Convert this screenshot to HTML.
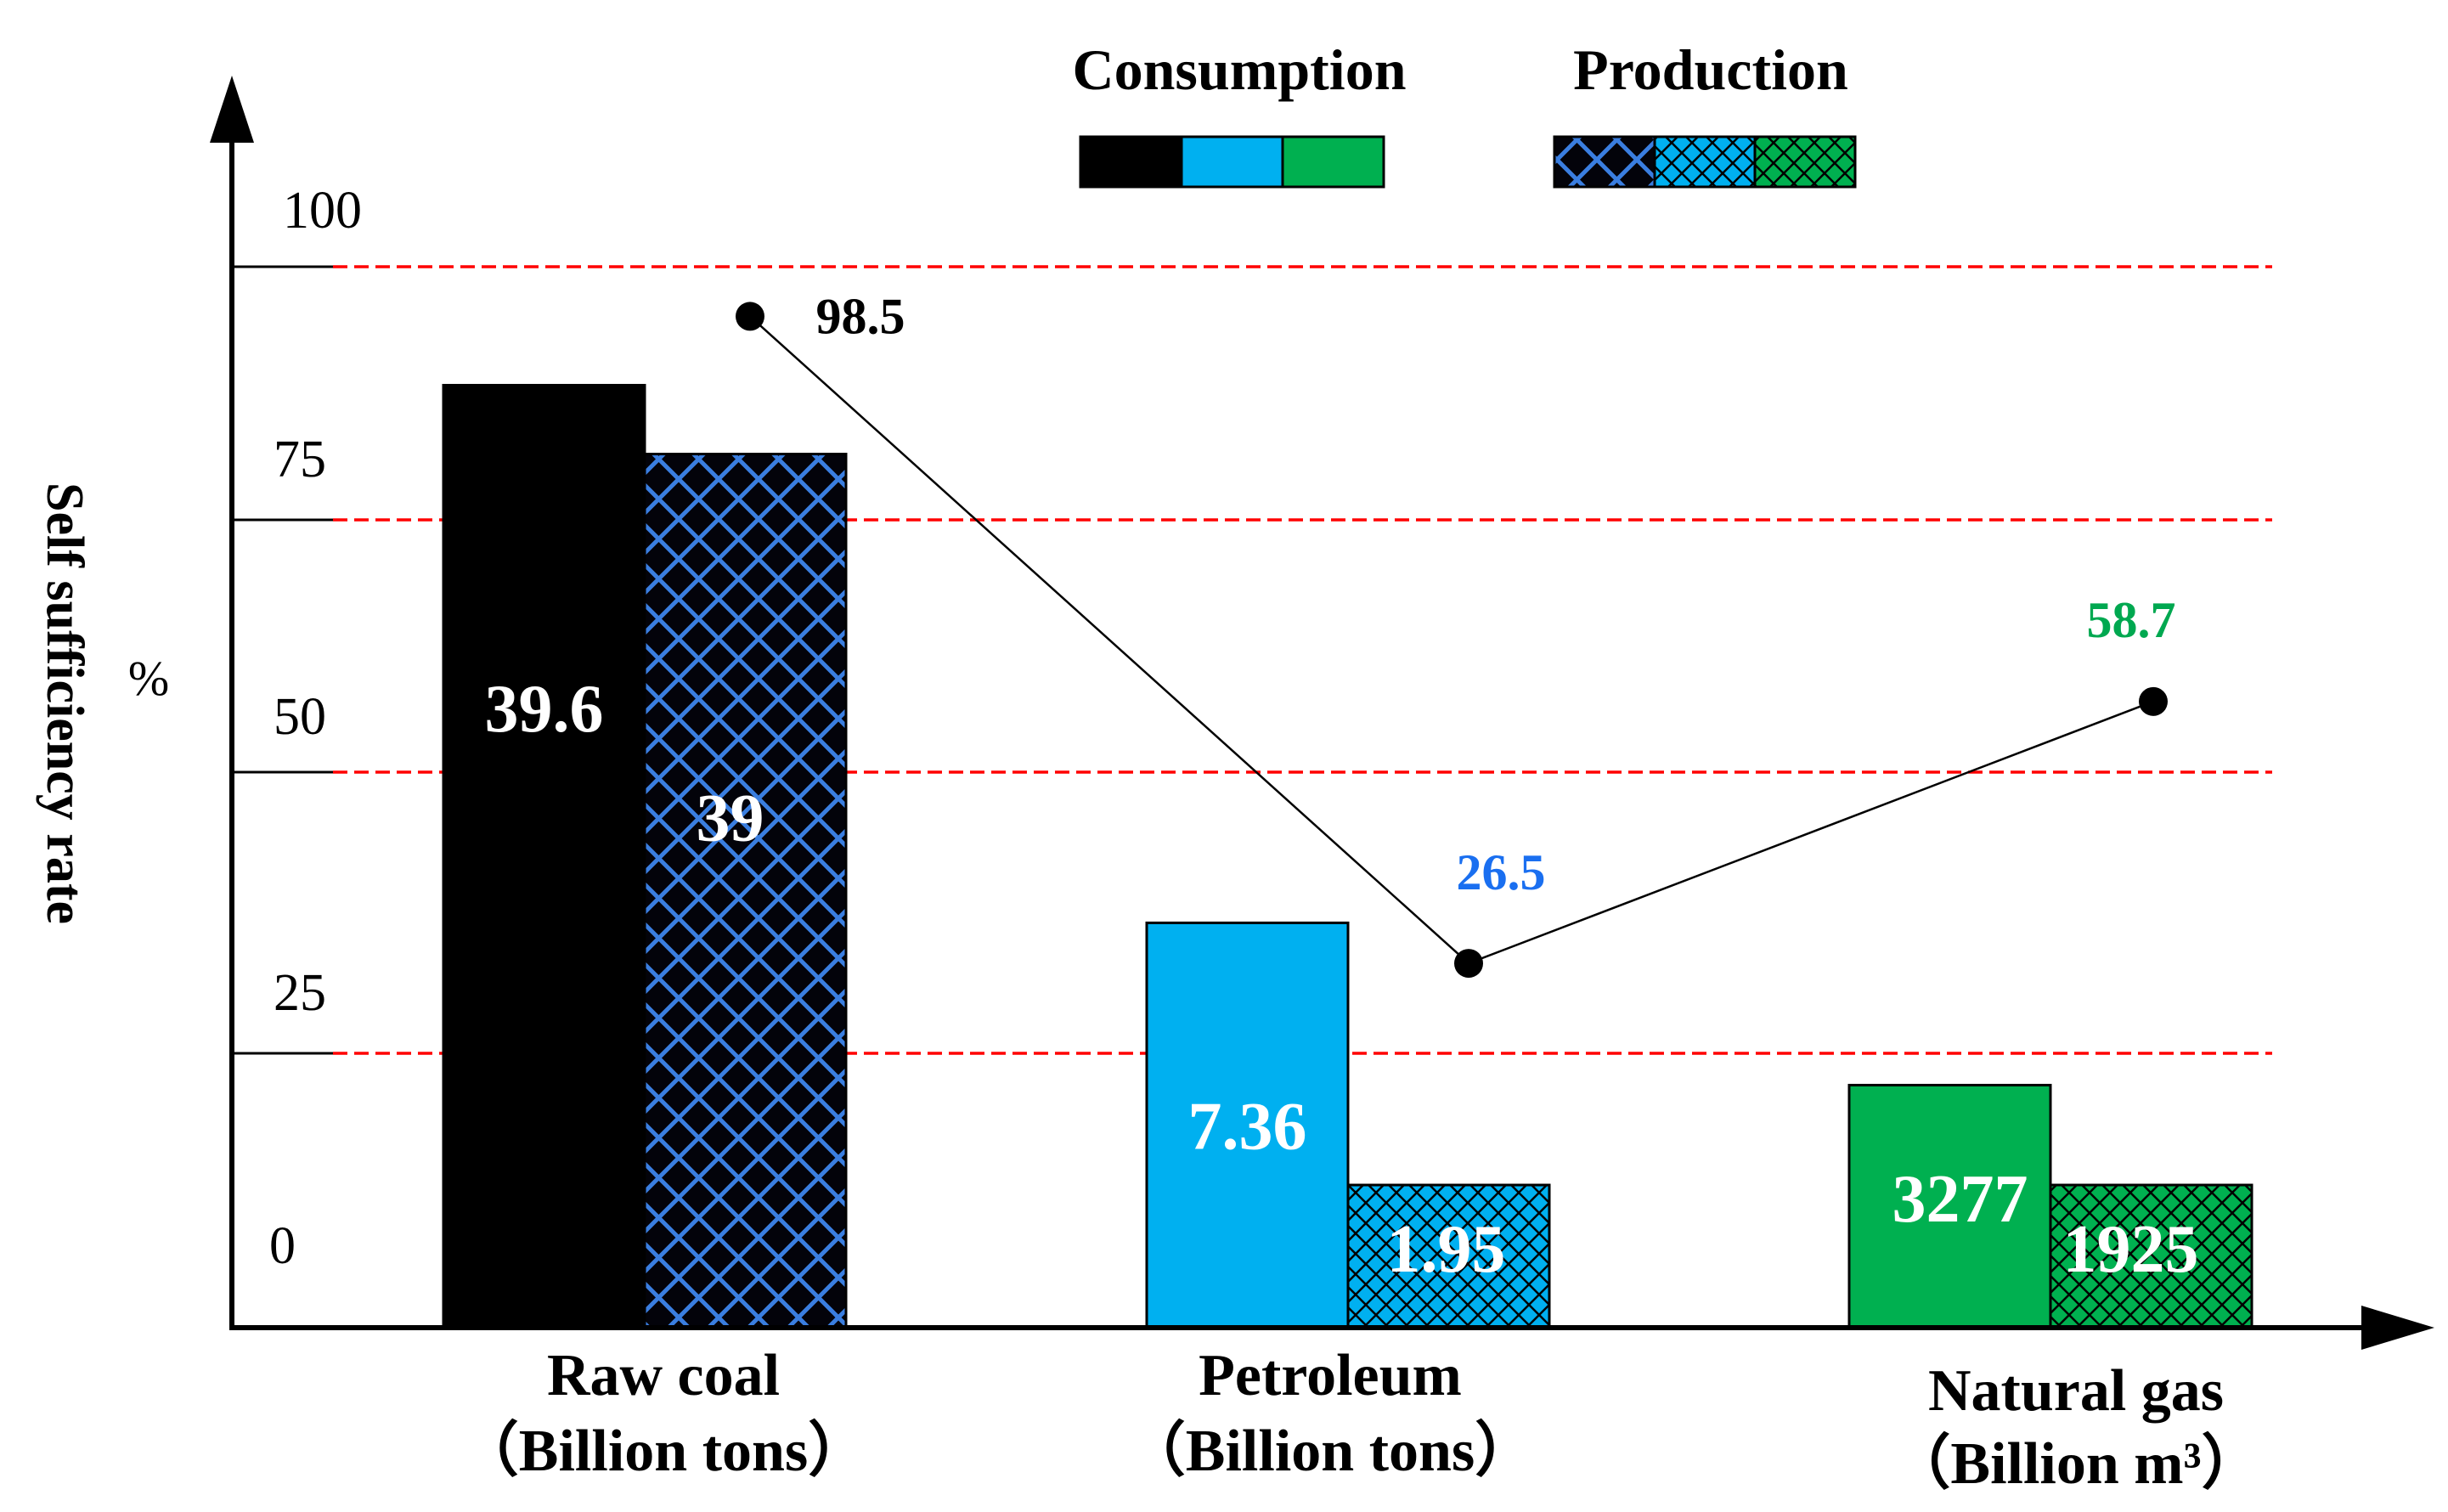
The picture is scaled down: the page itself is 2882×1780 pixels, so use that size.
<!DOCTYPE html>
<html><head><meta charset="utf-8"><style>
html,body{margin:0;padding:0;background:#fff}
svg{display:block}
text{font-family:"Liberation Serif",serif}
.b{font-weight:bold}
.n{font-weight:normal}
</style></head><body>
<svg id="chart" width="2882" height="1780" viewBox="0 0 2882 1780" xmlns="http://www.w3.org/2000/svg">
<defs>
<pattern id="hatchBlack" patternUnits="userSpaceOnUse" width="47" height="47">
<rect width="47" height="47" fill="#03030a"/>
<path d="M0,0L47,47M47,0L0,47" stroke="#3a7ee0" stroke-width="5"/>
</pattern>
<pattern id="hatchBlue" patternUnits="userSpaceOnUse" width="24" height="24">
<rect width="24" height="24" fill="#00b0f0"/>
<path d="M0,0L24,24M24,0L0,24" stroke="#000" stroke-width="2.5"/>
</pattern>
<pattern id="hatchGreen" patternUnits="userSpaceOnUse" width="24" height="24">
<rect width="24" height="24" fill="#00b050"/>
<path d="M0,0L24,24M24,0L0,24" stroke="#000" stroke-width="2.5"/>
</pattern>
</defs>
<g id="grid"></g>
<g id="bars"></g>
<g id="line"></g>
<g id="axes"></g>
</svg>
<script>
const categories = ["Raw coal", "Petroleum", "Natural gas"];
const units = ["（Billion tons）", "（Billion tons）", "（Billion m³）"];
const consumption = [39.6, 7.36, 3277];
const production = [39, 1.95, 1925];
// bar heights, in y-axis units (%)
const consumptionHeight = [88.3, 36.6, 22.1];
const productionHeight = [81.5, 13.0, 13.0];
const rates = [98.5, 26.5, 58.7];
// marker positions, in y-axis units
const markerRate = [95.1, 33.0, 57.0];
const yTicks = [0, 25, 50, 75, 100];

const NS = "http://www.w3.org/2000/svg";
function mk(tag, attrs, parent, txt) {
  const e = document.createElementNS(NS, tag);
  for (const k in attrs) e.setAttribute(k, attrs[k]);
  if (txt !== undefined) e.textContent = txt;
  parent.appendChild(e);
  return e;
}
const tickPix = [1563, 1240, 909, 612, 314];
function yScale(v) {
  let i = Math.min(3, Math.max(0, Math.floor(v / 25)));
  const f = (v - i * 25) / 25;
  return tickPix[i] + (tickPix[i + 1] - tickPix[i]) * f;
}
const y0 = yScale(0);
const groupCenter = [759, 1587, 2414];
const barW = 237;
function xGroup(i) { return groupCenter[i]; }

const gGrid = document.getElementById("grid");
const gBars = document.getElementById("bars");
const gLine = document.getElementById("line");
const gAxes = document.getElementById("axes");

const tickLabelOffset = [-76, -51, -45, -51, -46];
yTicks.forEach((t, i) => {
  const y = yScale(t);
  if (t > 0) {
    const tick = mk("line", {x1: 273, x2: 392, y1: y, y2: y, stroke: "#000", "stroke-width": 3}, gGrid);
    
    
    const gl = mk("line", {x1: 392, x2: 2675, y1: y, y2: y, stroke: "#ff0000", "stroke-width": 3.5, "stroke-dasharray": "17 8"}, gGrid);
    
    
  }
  const lbl = mk("text", {x: t === 100 ? 333 : (t === 0 ? 317 : 322), y: y + tickLabelOffset[i], "font-size": 62, "class": "n"}, gAxes, String(t));
  
  
});

const consFill = ["#000000", "#00b0f0", "#00b050"];
const prodFill = ["url(#hatchBlack)", "url(#hatchBlue)", "url(#hatchGreen)"];
const consLabelFrac = [0.658, 0.5, 0.535];
const prodLabelFrac = [0.585, 0.56, 0.56];
categories.forEach((c, i) => {
  const cx = xGroup(i);
  const tc = yScale(consumptionHeight[i]);
  const tp = yScale(productionHeight[i]);
  const b1 = mk("rect", {x: cx - barW, y: tc, width: barW, height: y0 - tc, fill: consFill[i], stroke: "#000", "stroke-width": 3}, gBars);
  
  
  const b2 = mk("rect", {x: cx, y: tp, width: barW, height: y0 - tp, fill: prodFill[i], stroke: "#000", "stroke-width": 3}, gBars);
  
  
  const ly1 = y0 - (y0 - tc) * consLabelFrac[i];
  const v1 = mk("text", {x: cx - barW / 2 + (i === 2 ? 12 : 0), y: ly1 + 28, "font-size": 80, fill: "#fff", "text-anchor": "middle", "class": "b"}, gBars, String(consumption[i]));
  
  
  const ly2 = y0 - (y0 - tp) * prodLabelFrac[i];
  const v2 = mk("text", {x: cx + barW / 2 + (i === 0 ? -18 : (i === 2 ? -24 : -3)), y: ly2 + 28, "font-size": 80, fill: "#fff", "text-anchor": "middle", "class": "b"}, gBars, String(production[i]));
  
  
  const dx = i === 0 ? 22 : (i === 1 ? -21 : 30);
  const cl = mk("text", {x: cx + dx, y: i === 2 ? 1660 : 1642, "font-size": 70, "text-anchor": "middle", "class": "b"}, gAxes, c);
  
  
  const ul = mk("text", {x: cx + dx, y: i === 2 ? 1746 : 1731, "font-size": 70, "text-anchor": "middle", "class": "b"}, gAxes, units[i]);
  
  
});

const markerX = [883, 1729, 2535];
const pts = rates.map((r, i) => [markerX[i], yScale(markerRate[i])]);
const pl = mk("polyline", {points: pts.map(p => p.join(",")).join(" "), fill: "none", stroke: "#000", "stroke-width": 2.5}, gLine);


const rateColor = ["#000", "#1a6ff0", "#00a850"];
const rateOff = [[130, 0], [38, -107], [-26, -96]];
pts.forEach((p, i) => {
  const d = mk("circle", {cx: p[0], cy: p[1], r: 17, fill: "#000"}, gLine);
  
  
  const t = mk("text", {x: p[0] + rateOff[i][0], y: p[1] + rateOff[i][1] + 20, "font-size": 60, fill: rateColor[i], "text-anchor": "middle", "class": "b"}, gLine, String(rates[i]));
  
  
});

const ya = mk("line", {x1: 273, x2: 273, y1: 150, y2: 1566, stroke: "#000", "stroke-width": 6}, gAxes);


const yar = mk("polygon", {points: "273,89 247,168 299,168", fill: "#000"}, gAxes);


const xa = mk("line", {x1: 270, x2: 2790, y1: 1563, y2: 1563, stroke: "#000", "stroke-width": 6}, gAxes);


const xar = mk("polygon", {points: "2866,1563 2780,1537 2780,1589", fill: "#000"}, gAxes);


const yt = mk("text", {x: 0, y: 0, "font-size": 62, "text-anchor": "middle", "class": "b", transform: "translate(56,828) rotate(90)"}, gAxes, "Self sufficiency rate");


const pc = mk("text", {x: 175, y: 818, "font-size": 58, "text-anchor": "middle", "class": "n"}, gAxes, "%");



const lc = mk("text", {x: 1459, y: 105, "font-size": 68, "text-anchor": "middle", "class": "b"}, gAxes, "Consumption");


const lp = mk("text", {x: 2014, y: 105, "font-size": 68, "text-anchor": "middle", "class": "b"}, gAxes, "Production");


consFill.forEach((f, i) => {
  const r = mk("rect", {x: 1272 + i * 119, y: 161, width: 119, height: 59, fill: f, stroke: "#000", "stroke-width": 3}, gAxes);
  
  
});
prodFill.forEach((f, i) => {
  const r = mk("rect", {x: 1830 + i * 118, y: 161, width: 118, height: 59, fill: f, stroke: "#000", "stroke-width": 3}, gAxes);
  
  
});
</script>
</body></html>
